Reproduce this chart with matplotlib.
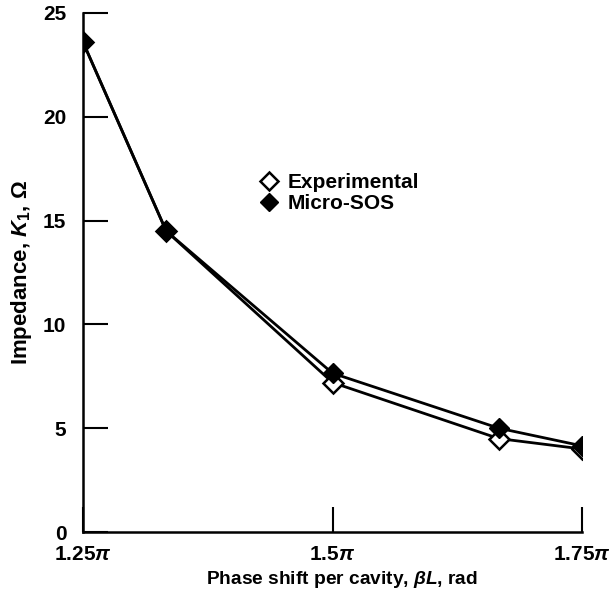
import matplotlib
matplotlib.use("Agg")
import matplotlib.pyplot as plt

plt.rcParams["font.family"] = ["Liberation Sans", "DejaVu Sans"]
plt.rcParams["mathtext.fontset"] = "custom"
plt.rcParams["mathtext.rm"] = "Liberation Sans:bold"
plt.rcParams["mathtext.it"] = "Liberation Sans:italic:bold"
plt.rcParams["mathtext.bf"] = "Liberation Sans:bold"

# phase shift in units of pi
phase = [1.25, 4 / 3, 1.5, 5 / 3, 1.75]
experimental = [23.6, 14.5, 7.2, 4.5, 4.0]
micro_sos = [23.6, 14.5, 7.65, 5.0, 4.15]

xticks = [1.25, 1.5, 1.75]
xtick_labels = [r"1.25$\pi$", r"1.5$\pi$", r"1.75$\pi$"]
yticks = [0, 5, 10, 15, 20, 25]

fig = plt.figure(figsize=(6.13, 5.96), dpi=100)
ax = fig.add_axes([83 / 613, 64 / 596, 499 / 613, 519 / 596])

ax.plot(phase, experimental, color="black", lw=2, marker="D", ms=10,
        mfc="white", mec="black", mew=1.8, label="Experimental", zorder=3)
ax.plot(phase, micro_sos, color="black", lw=2, marker="D", ms=10,
        mfc="black", mec="black", label="Micro-SOS", zorder=4)

ax.set_xlim(1.25, 1.75)
ax.set_ylim(0, 25)
ax.set_xticks(xticks)
ax.set_xticklabels(xtick_labels)
ax.set_yticks(yticks)
for lab in ax.get_xticklabels() + ax.get_yticklabels():
    lab.set_fontweight("bold")
    lab.set_fontsize(15)

ax.spines["top"].set_visible(False)
ax.spines["right"].set_visible(False)
for s in ("left", "bottom"):
    ax.spines[s].set_linewidth(1.8)
ax.tick_params(axis="both", direction="in", length=18, width=1.5)
ax.tick_params(axis="y", pad=12)
ax.tick_params(axis="x", pad=9)

ax.set_xlabel(r"Phase shift per cavity, $\beta L$, rad", fontsize=13.8,
              fontweight="bold")
ax.xaxis.set_label_coords(0.519, -0.072)
ax.set_ylabel(r"Impedance, $K_1$, $\Omega$", fontsize=16, fontweight="bold")
ax.yaxis.set_label_coords(-0.098, 0.5)

leg = ax.legend(loc="upper left", bbox_to_anchor=(0.330, 0.712), frameon=False,
                prop={"weight": "bold", "size": 15}, handlelength=1.0,
                handletextpad=0.4, labelspacing=0.1, borderpad=0,
                markerscale=0.9)
for h in leg.legend_handles:
    h.set_linestyle("none")

fig.savefig("out.png", dpi=100)
plt.close(fig)
